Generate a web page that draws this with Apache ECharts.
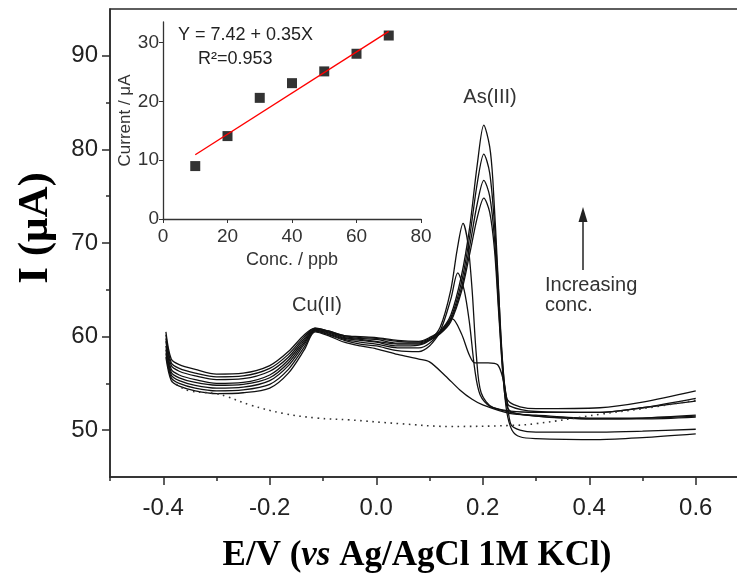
<!DOCTYPE html>
<html>
<head>
<meta charset="utf-8">
<script src="https://cdn.jsdelivr.net/npm/echarts@6/dist/echarts.min.js"></script>
<style>
  html, body { margin: 0; padding: 0; background: #fff; }
  #main { width: 737px; height: 573px; }
</style>
</head>
<body>
<div id="main"></div>
<script>
// 公共的左段电位 (Cu 峰区域)
var potLeft = [-0.395, -0.385, -0.37, -0.34, -0.3, -0.25, -0.2, -0.165, -0.135, -0.115, -0.09, -0.06, -0.03, 0, 0.04]

// 各条曲线左段电流
var leftH = [60.5, 57.6, 57.0, 56.5, 56.0, 56.1, 56.9, 58.4, 60.2, 60.9, 60.6, 60.1, 60.0, 59.9, 59.6]
var leftG = [60.2, 57.2, 56.6, 56.1, 55.7, 55.8, 56.6, 58.1, 60.0, 60.9, 60.6, 60.1, 59.9, 59.8, 59.5]
var leftF = [59.8, 56.9, 56.3, 55.8, 55.4, 55.5, 56.3, 57.8, 59.8, 60.8, 60.5, 60.0, 59.8, 59.7, 59.3]
var leftE = [59.5, 56.5, 55.9, 55.4, 55.0, 55.1, 55.9, 57.5, 59.6, 60.8, 60.5, 59.9, 59.7, 59.5, 59.2]
var leftD = [59.0, 56.2, 55.6, 55.1, 54.8, 54.9, 55.6, 57.2, 59.4, 60.7, 60.4, 59.8, 59.6, 59.4, 59.0]
var leftC = [58.6, 55.9, 55.3, 54.8, 54.5, 54.6, 55.3, 56.9, 59.2, 60.7, 60.3, 59.7, 59.4, 59.2, 58.8]
var leftB = [58.2, 55.6, 55.0, 54.5, 54.2, 54.3, 54.9, 56.5, 58.9, 60.6, 60.2, 59.6, 59.2, 59.0, 58.5]
var leftA = [57.8, 55.3, 54.7, 54.2, 53.9, 54.0, 54.5, 56.1, 58.6, 60.5, 60.1, 59.4, 59.0, 58.7, 58.1]

// 右段 (As 峰区域) 电位与电流
var potA = [0.08, 0.1, 0.13, 0.157, 0.18, 0.2, 0.25, 0.3, 0.4, 0.5, 0.6]
var curA = [57.6, 57.3, 55.8, 54.3, 53.3, 52.7, 51.8, 51.6, 51.3, 51.3, 51.5]
var potB = [0.08, 0.1, 0.12, 0.143, 0.16, 0.175, 0.185, 0.21, 0.228, 0.238, 0.245, 0.253, 0.27, 0.3, 0.42, 0.5, 0.6]
var curB = [58.4, 59.0, 60.4, 61.9, 60.3, 58.0, 57.2, 57.2, 57.0, 55.5, 53.4, 50.6, 50.0, 49.8, 49.8, 49.9, 50.1]
var potC = [0.08, 0.1, 0.12, 0.14, 0.153, 0.165, 0.175, 0.185, 0.195, 0.215, 0.3, 0.42, 0.5, 0.6]
var curC = [58.8, 59.3, 60.6, 64.0, 66.8, 65.0, 61.5, 56.5, 53.8, 52.5, 51.5, 51.2, 51.2, 51.4]
var potD = [0.08, 0.1, 0.12, 0.14, 0.152, 0.163, 0.172, 0.18, 0.188, 0.197, 0.22, 0.3, 0.42, 0.5, 0.6]
var curD = [59.1, 59.6, 61.0, 65.0, 69.3, 72.1, 70.0, 65.0, 58.0, 54.0, 52.4, 51.9, 51.9, 52.4, 53.1]
var potE = [0.08, 0.1, 0.12, 0.14, 0.16, 0.175, 0.19, 0.202, 0.213, 0.222, 0.23, 0.238, 0.245, 0.255, 0.3, 0.42, 0.5, 0.6]
var curE = [59.2, 59.6, 60.3, 61.6, 64.8, 68.7, 72.8, 74.8, 73.3, 69.3, 62.5, 55.8, 52.6, 51.9, 51.5, 51.2, 51.3, 51.6]
var potF = [0.08, 0.1, 0.12, 0.14, 0.16, 0.175, 0.19, 0.202, 0.213, 0.222, 0.23, 0.238, 0.245, 0.255, 0.27, 0.3, 0.42, 0.5, 0.6]
var curF = [59.3, 59.7, 60.4, 61.8, 65.2, 69.5, 74.3, 76.7, 75.0, 70.5, 63.0, 56.0, 52.0, 50.0, 49.3, 49.1, 49.0, 49.2, 49.6]
var potG = [0.08, 0.1, 0.12, 0.14, 0.16, 0.175, 0.19, 0.202, 0.213, 0.222, 0.23, 0.237, 0.244, 0.25, 0.3, 0.42, 0.5, 0.6]
var curG = [59.4, 59.8, 60.5, 62.0, 65.8, 70.5, 76.5, 79.5, 77.5, 72.0, 64.5, 57.5, 53.5, 52.6, 52.0, 51.9, 52.4, 53.4]
var potH = [0.08, 0.1, 0.12, 0.14, 0.16, 0.175, 0.19, 0.202, 0.213, 0.219, 0.229, 0.235, 0.243, 0.25, 0.27, 0.3, 0.42, 0.5, 0.6]
var curH = [59.5, 59.9, 60.6, 62.3, 66.5, 71.5, 78.5, 82.6, 80.3, 76.7, 66.0, 58.9, 53.8, 53.0, 52.5, 52.3, 52.4, 53.0, 54.2]

// 空白 (虚线)
var potBlank = [-0.385, -0.37, -0.35, -0.3, -0.281, -0.237, -0.175, -0.112, -0.05, 0.044, 0.138, 0.25, 0.3, 0.42, 0.5, 0.6]
var curBlank = [55.3, 54.7, 54.2, 53.9, 53.6, 52.7, 51.8, 51.3, 51.1, 50.7, 50.4, 50.5, 50.7, 51.7, 52.3, 53.2]

// 轴刻度
var xMajor = [-0.4, -0.2, 0, 0.2, 0.4, 0.6]
var xMinor = [-0.5, -0.3, -0.1, 0.1, 0.3, 0.5]
var yMajor = [50, 60, 70, 80, 90]
var yMinor = [55, 65, 75, 85]

// 插图：校准曲线
var conc = [10, 20, 30, 40, 50, 60, 70]
var current = [9.0, 14.1, 20.6, 23.1, 25.1, 28.1, 31.2]
var fitConc = [10, 70]
var fitCurrent = [10.92, 31.92]
var insetYTicks = [0, 10, 20, 30]

function pairs (xs, ys) {
  return xs.map(function (x, i) { return [x, ys[i]] })
}

var curves = [
  [leftH, potH, curH],
  [leftG, potG, curG],
  [leftF, potF, curF],
  [leftE, potE, curE],
  [leftD, potD, curD],
  [leftC, potC, curC],
  [leftB, potB, curB],
  [leftA, potA, curA]
]

var series = curves.map(function (c) {
  return {
    type: 'line',
    xAxisIndex: 0,
    yAxisIndex: 0,
    showSymbol: false,
    smooth: 0.3,
    silent: true,
    lineStyle: { color: '#111', width: 1.3 },
    data: pairs(potLeft, c[0]).concat(pairs(c[1], c[2]))
  }
})
series.push({
  type: 'line',
  xAxisIndex: 0,
  yAxisIndex: 0,
  showSymbol: false,
  smooth: 0.4,
  silent: true,
  lineStyle: { color: '#333', width: 1.6, type: [1.6, 4.5] },
  data: pairs(potBlank, curBlank)
})
series.push({
  type: 'line',
  xAxisIndex: 2,
  yAxisIndex: 2,
  showSymbol: false,
  silent: true,
  lineStyle: { color: '#ff0000', width: 1.4 },
  data: pairs(fitConc, fitCurrent)
})
series.push({
  type: 'scatter',
  xAxisIndex: 2,
  yAxisIndex: 2,
  symbol: 'rect',
  symbolSize: 10,
  silent: true,
  itemStyle: { color: '#000' },
  data: pairs(conc, current)
})

var axisColor = '#2a2a2a'
var mainFont = '"Liberation Sans", Arial, sans-serif'
var serif = '"Liberation Serif", "Times New Roman", serif'

var option = {
  animation: false,
  backgroundColor: '#fff',
  grid: [
    { left: 110, right: -12, top: 9, bottom: 96, outerBoundsMode: 'none', show: true, borderColor: axisColor, borderWidth: 1.5 },
    { left: 163, right: 316, top: 22, bottom: 354, outerBoundsMode: 'none' }
  ],
  xAxis: [
    {
      gridIndex: 0, type: 'value', min: -0.5, max: 0.7, interval: 0.1,
      axisLine: { onZero: false, lineStyle: { color: axisColor, width: 1.5 } },
      axisTick: { customValues: xMajor, length: 8, lineStyle: { color: axisColor, width: 1.5 } },
      axisLabel: {
        customValues: xMajor, margin: 19, fontSize: 24, color: '#222', fontFamily: mainFont,
        formatter: function (v) { return v.toFixed(1) }
      },
      splitLine: { show: false }
    },
    {
      gridIndex: 0, type: 'value', min: -0.5, max: 0.7, position: 'bottom',
      axisLine: { show: false, onZero: false },
      axisTick: { customValues: xMinor, length: 4, lineStyle: { color: axisColor, width: 1.5 } },
      axisLabel: { show: false },
      splitLine: { show: false }
    },
    {
      gridIndex: 1, type: 'value', min: 0, max: 80, interval: 20,
      name: 'Conc. / ppb', nameLocation: 'middle', nameGap: 32,
      nameTextStyle: { fontSize: 18, color: '#333', fontFamily: mainFont },
      axisLine: { onZero: false, lineStyle: { color: '#333', width: 1.3 } },
      axisTick: { length: 4, lineStyle: { color: '#333' } },
      axisLabel: { margin: 8, fontSize: 19, color: '#333', fontFamily: mainFont },
      splitLine: { show: false }
    }
  ],
  yAxis: [
    {
      gridIndex: 0, type: 'value', min: 45, max: 95, interval: 5,
      axisLine: { onZero: false, lineStyle: { color: axisColor, width: 1.5 } },
      axisTick: { customValues: yMajor, length: 8, lineStyle: { color: axisColor, width: 1.5 } },
      axisLabel: { customValues: yMajor, margin: 12, fontSize: 24, color: '#222', fontFamily: mainFont },
      splitLine: { show: false }
    },
    {
      gridIndex: 0, type: 'value', min: 45, max: 95, position: 'left',
      axisLine: { show: false, onZero: false },
      axisTick: { customValues: yMinor, length: 4, lineStyle: { color: axisColor, width: 1.5 } },
      axisLabel: { show: false },
      splitLine: { show: false }
    },
    {
      gridIndex: 1, type: 'value', min: 0, max: 33.5,
      name: 'Current / μA', nameLocation: 'middle', nameGap: 29, nameRotate: 90,
      nameTextStyle: { fontSize: 17, color: '#333', fontFamily: mainFont },
      axisLine: { onZero: false, lineStyle: { color: '#333', width: 1.3 } },
      axisTick: { customValues: insetYTicks, length: 4, lineStyle: { color: '#333' } },
      axisLabel: { customValues: insetYTicks, margin: 4, fontSize: 19, color: '#333', fontFamily: mainFont },
      splitLine: { show: false }
    }
  ],
  graphic: [
    {
      type: 'text', x: 417, y: 556,
      style: {
        text: '{a|E/V (}{b|vs}{a| Ag/AgCl 1M KCl)}',
        align: 'center', verticalAlign: 'middle',
        rich: {
          a: { font: 'bold 35px ' + serif, fill: '#000' },
          b: { font: 'italic bold 35px ' + serif, fill: '#000' }
        }
      }
    },
    {
      type: 'text', x: 36, y: 228, rotation: Math.PI / 2,
      style: { text: 'I (μA)', font: 'bold 43px ' + serif, fill: '#000', align: 'center', verticalAlign: 'middle' }
    },
    {
      type: 'text', x: 178, y: 35,
      style: { text: 'Y = 7.42 + 0.35X', font: '18px ' + mainFont, fill: '#222', align: 'left', verticalAlign: 'middle' }
    },
    {
      type: 'text', x: 198, y: 59,
      style: { text: 'R²=0.953', font: '18px ' + mainFont, fill: '#222', align: 'left', verticalAlign: 'middle' }
    },
    {
      type: 'text', x: 317, y: 305,
      style: { text: 'Cu(II)', font: '20px ' + mainFont, fill: '#333', align: 'center', verticalAlign: 'middle' }
    },
    {
      type: 'text', x: 490, y: 97,
      style: { text: 'As(III)', font: '20px ' + mainFont, fill: '#333', align: 'center', verticalAlign: 'middle' }
    },
    {
      type: 'text', x: 545, y: 285,
      style: { text: 'Increasing', font: '20px ' + mainFont, fill: '#333', align: 'left', verticalAlign: 'middle' }
    },
    {
      type: 'text', x: 545, y: 305,
      style: { text: 'conc.', font: '20px ' + mainFont, fill: '#333', align: 'left', verticalAlign: 'middle' }
    },
    {
      type: 'line',
      shape: { x1: 583, y1: 270, x2: 583, y2: 218 },
      style: { stroke: '#222', lineWidth: 1.5 }
    },
    {
      type: 'polygon',
      shape: { points: [[583, 207], [578.5, 222], [587.5, 222]] },
      style: { fill: '#222' }
    }
  ],
  series: series
}

var chart = echarts.init(document.getElementById('main'))
chart.setOption(option)
</script>
</body>
</html>
